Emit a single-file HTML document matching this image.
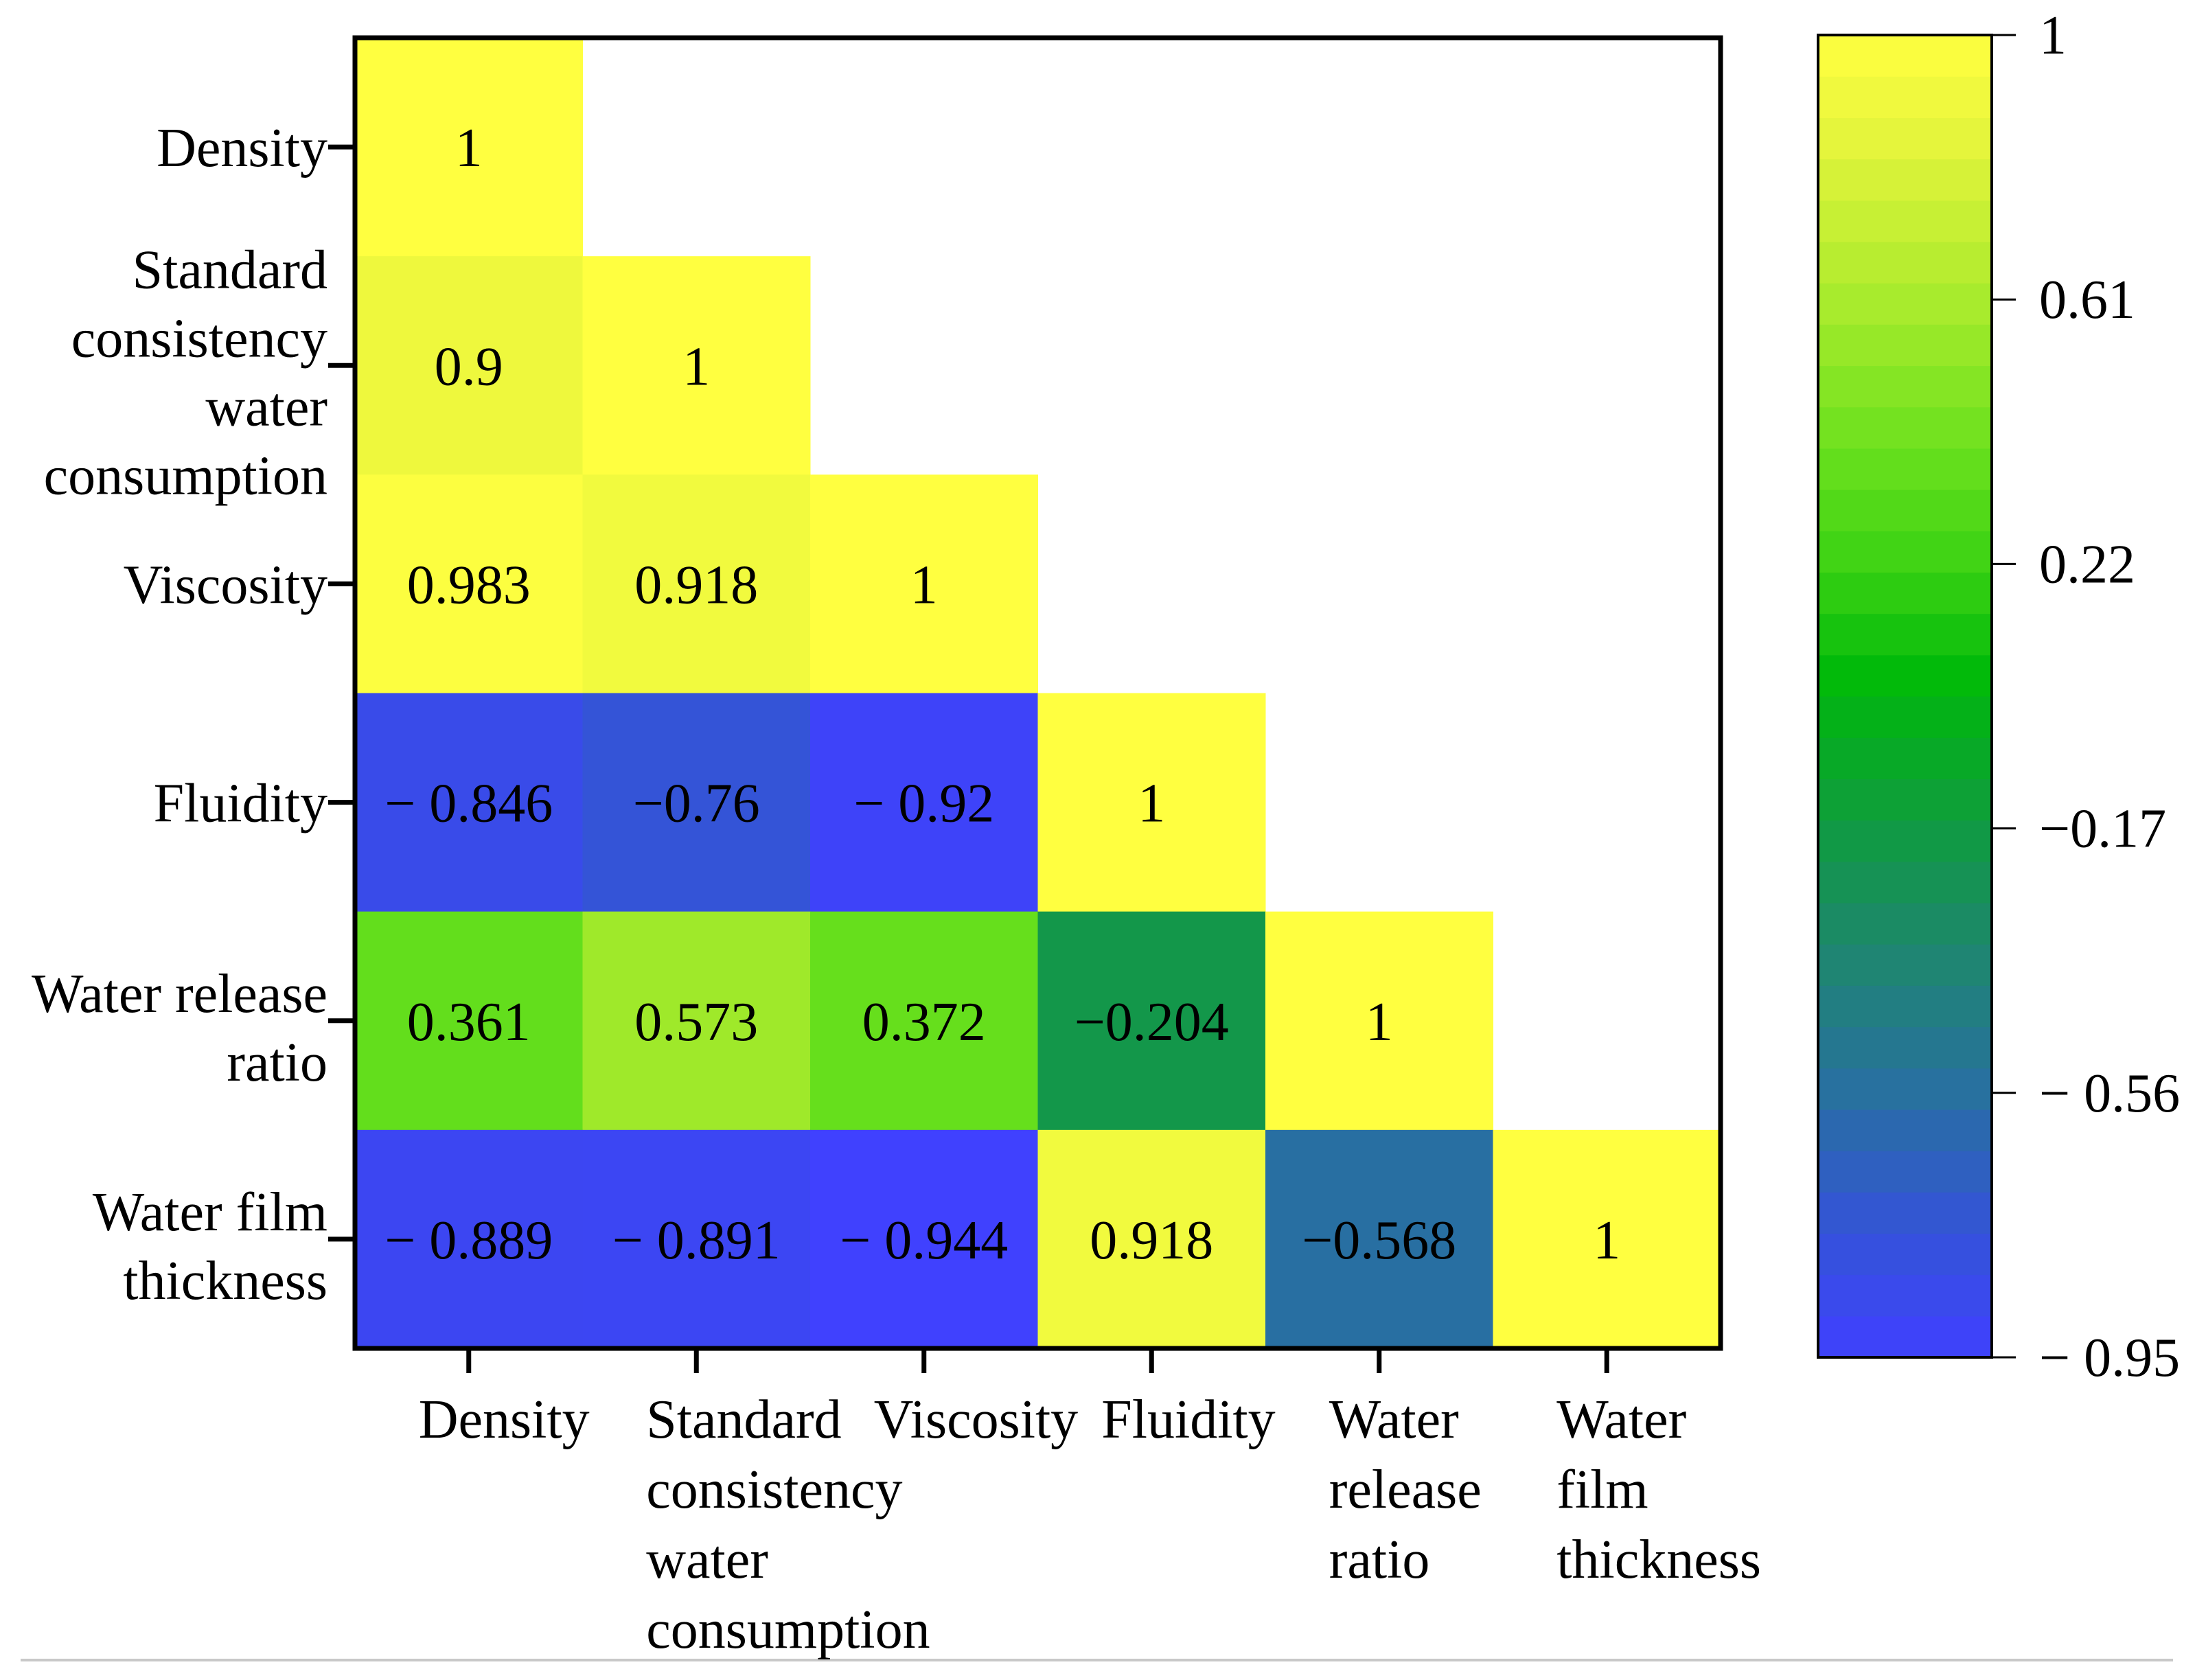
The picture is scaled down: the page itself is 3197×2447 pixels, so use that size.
<!DOCTYPE html>
<html><head><meta charset="utf-8"><style>
html,body{margin:0;padding:0;background:#fff;}
svg{display:block;font-family:"Liberation Serif",serif;}
</style></head><body>
<svg id="chart" width="3197" height="2447" viewBox="0 0 3197 2447" xmlns="http://www.w3.org/2000/svg">
<line x1="30" y1="2418" x2="3165" y2="2418" stroke="#c8c8c8" stroke-width="4"/>
<g id="cells"></g>
<g id="labels"></g>
<rect x="517" y="55" width="1989" height="1909" fill="none" stroke="#000" stroke-width="7"/>
<defs><linearGradient id="cbg" x1="0" y1="1" x2="0" y2="0"></linearGradient></defs>
<g id="cbar"></g>
</svg>
<script>
const categories = ["Density","Standard consistency water consumption","Viscosity","Fluidity","Water release ratio","Water film thickness"];
const yLabelLines = [["Density"],["Standard","consistency","water","consumption"],["Viscosity"],["Fluidity"],["Water release","ratio"],["Water film","thickness"]];
const xLabelLines = [["Density"],["Standard","consistency","water","consumption"],["Viscosity"],["Fluidity"],["Water","release","ratio"],["Water","film","thickness"]];
const row0 = [1];
const row1 = [0.9, 1];
const row2 = [0.983, 0.918, 1];
const row3 = [-0.846, -0.76, -0.92, 1];
const row4 = [0.361, 0.573, 0.372, -0.204, 1];
const row5 = [-0.889, -0.891, -0.944, 0.918, -0.568, 1];
const valueLabels = [["1"],["0.9","1"],["0.983","0.918","1"],["\u2212 0.846","\u22120.76","\u2212 0.92","1"],["0.361","0.573","0.372","\u22120.204","1"],["\u2212 0.889","\u2212 0.891","\u2212 0.944","0.918","\u22120.568","1"]];
const cbTicks = [1, 0.61, 0.22, -0.17, -0.56, -0.95];
const cbTickLabels = ["1","0.61","0.22","\u22120.17","\u2212 0.56","\u2212 0.95"];
const rows = [row0,row1,row2,row3,row4,row5];

const NS = "http://www.w3.org/2000/svg";
const PX0 = 517, PX1 = 2506, PY0 = 55, PY1 = 1964;
const n = categories.length;
const cw = (PX1-PX0)/n, ch = (PY1-PY0)/n;
const xPos = i => PX0 + i*cw;
const yPos = j => PY0 + j*ch;
const vmin = -0.95, vmax = 1;
const CB_X0 = 2648, CB_X1 = 2901, CB_Y0 = 51, CB_Y1 = 1977;
const cbY = v => CB_Y1 - (v - vmin)/(vmax - vmin)*(CB_Y1 - CB_Y0);

const stops = [[-0.95,[64,64,255]],[-0.76,[52,84,215]],[-0.56,[40,112,160]],[-0.35,[30,135,110]],[-0.17,[16,155,65]],[0.05,[0,185,10]],[0.22,[60,210,20]],[0.4,[110,225,30]],[0.61,[170,235,45]],[0.85,[230,245,60]],[1,[255,255,64]]];
function color(v){
  for(let k=0;k<stops.length-1;k++){
    const [a,ca]=stops[k],[b,cb]=stops[k+1];
    if(v<=b){const t=Math.max(0,(v-a)/(b-a));return "rgb("+ca.map((c,i)=>Math.round(c+(cb[i]-c)*t)).join(",")+")";}
  }
  return "rgb(255,255,64)";
}
function mk(tag, attrs, parent){const e=document.createElementNS(NS,tag);for(const k in attrs)e.setAttribute(k,attrs[k]);parent.appendChild(e);return e;}

const cells = document.getElementById("cells");
const labels = document.getElementById("labels");
rows.forEach((r,j)=>{
  r.forEach((v,i)=>{
    const rc = mk("rect",{x:xPos(i),y:yPos(j),width:cw+0.5,height:ch+0.5,fill:color(v)},cells);
    
    
    const t = mk("text",{x:xPos(i)+cw/2,y:yPos(j)+ch/2+28,"text-anchor":"middle","font-size":80,fill:"#000"},cells);
    
    
    t.textContent = valueLabels[j][i];
  });
});
yLabelLines.forEach((lines,j)=>{
  const cy = yPos(j)+ch/2;
  const tk = mk("line",{x1:478,x2:517,y1:cy,y2:cy,stroke:"#000","stroke-width":7},labels);
  
  
  lines.forEach((s,k)=>{
    const t = mk("text",{x:477,y:cy+(k-(lines.length-1)/2)*100+(lines.length>1?37:28),"text-anchor":"end","font-size":80},labels);
    
    
    t.textContent = s;
  });
});
xLabelLines.forEach((lines,i)=>{
  const cx = xPos(i)+cw/2;
  const tk = mk("line",{x1:cx,x2:cx,y1:1964,y2:2000,stroke:"#000","stroke-width":7},labels);
  
  
  lines.forEach((s,k)=>{
    const t = mk("text",{x:cx-73,y:2094+k*102,"font-size":80},labels);
    
    
    t.textContent = s;
  });
});
// colorbar
const cbar = document.getElementById("cbar");
const bands = 32;
for(let b=0;b<bands;b++){
  const v0 = vmin + b*(vmax-vmin)/bands, v1 = vmin+(b+1)*(vmax-vmin)/bands;
  const r = mk("rect",{x:CB_X0,y:cbY(v1),width:CB_X1-CB_X0,height:cbY(v0)-cbY(v1)+0.6,fill:color((v0+v1)/2)},cbar);
  
  
}
const fr = mk("rect",{x:CB_X0,y:CB_Y0,width:CB_X1-CB_X0,height:CB_Y1-CB_Y0,fill:"none",stroke:"#000","stroke-width":4},cbar);


cbTicks.forEach((v,k)=>{
  const y = cbY(v);
  const l = mk("line",{x1:CB_X1,x2:2936,y1:y,y2:y,stroke:"#000","stroke-width":3},cbar);
  
  
  const t = mk("text",{x:2970,y:y+27,"font-size":80},cbar);
  
  
  t.textContent = cbTickLabels[k];
});
</script>
</body></html>
